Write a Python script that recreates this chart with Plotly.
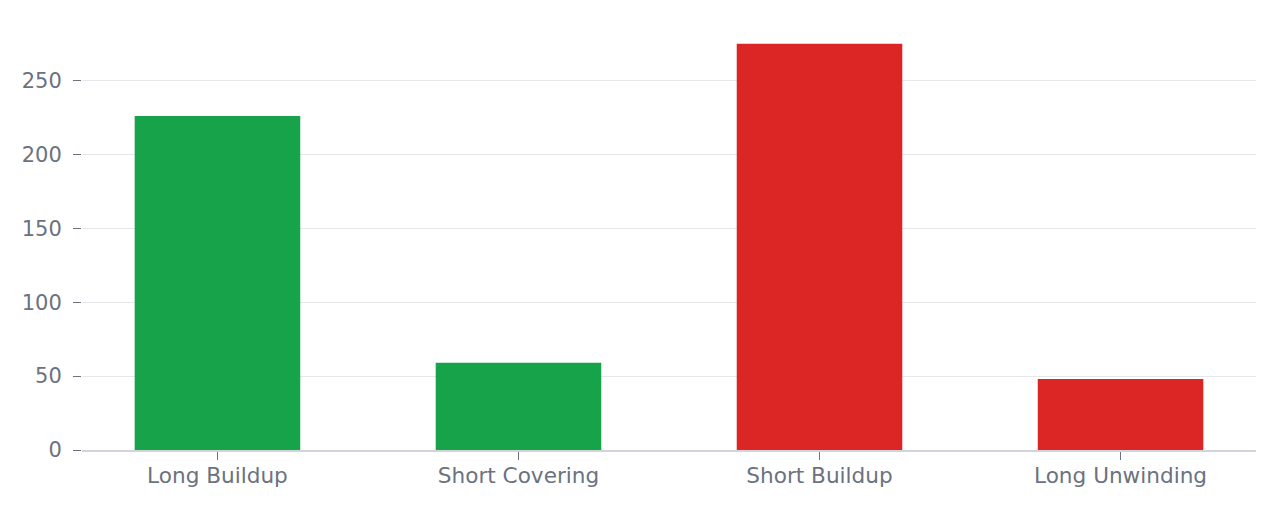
import plotly.graph_objects as go

# positioning categories and how many contracts fell in each
categories = ["Long Buildup", "Short Covering", "Short Buildup", "Long Unwinding"]
counts = [226, 59, 275, 48]
bar_colors = ["#16a34a", "#16a34a", "#dc2626", "#dc2626"]

fig = go.Figure()
fig.add_trace(
    go.Bar(x=categories, y=counts, marker=dict(color=bar_colors, line=dict(width=0)), width=0.55)
)

# page body adds an 8px offset, margins compensate for it
fig.update_layout(
    width=1280,
    height=512,
    margin=dict(l=74, r=32, t=15, b=70),
    paper_bgcolor="white",
    plot_bgcolor="white",
    showlegend=False,
    font=dict(family="DejaVu Sans", size=21, color="#6b7280"),
    xaxis=dict(
        range=[-0.45, 3.45],
        showgrid=False,
        showline=True,
        linecolor="#d1d5db",
        linewidth=2,
        ticks="outside",
        ticklen=8,
        tickcolor="#6b7280",
        tickfont=dict(size=21.6),
        ticklabelstandoff=-3,
        layer="above traces",
    ),
    yaxis=dict(
        range=[0, 289],
        showgrid=True,
        gridcolor="#e5e7eb",
        zeroline=False,
        showline=False,
        ticks="outside",
        ticklen=8,
        tickcolor="#6b7280",
        ticklabelstandoff=7,
        dtick=50,
        layer="above traces",
    ),
)

fig.write_html("out.html")
